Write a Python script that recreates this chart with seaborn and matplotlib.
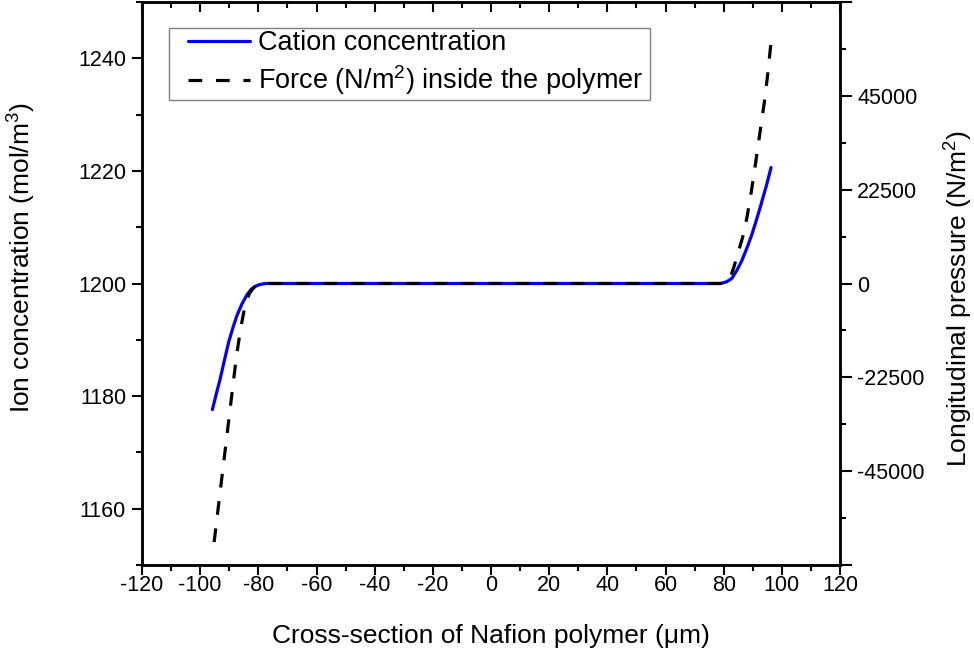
import matplotlib
matplotlib.use("Agg")
import matplotlib.pyplot as plt
from matplotlib.ticker import MultipleLocator, FixedLocator, FixedFormatter
from matplotlib.patches import Rectangle
import seaborn as sns
import pandas as pd

# ---- data ----
cation_x = [-95.8, -94.5, -93.1, -91.6, -90.2, -88.7, -87.3, -85.6, -83.9, -82.4,
            -81.0, -79.6, -78.2, -77.0, 0.0, 77.0, 78.5, 79.3, 81.0, 82.8, 84.5,
            86.2, 88.0, 89.7, 91.1, 92.5, 93.7, 94.8, 95.6, 96.3]
cation_c = [1177.6, 1180.3, 1183.1, 1186.5, 1189.6, 1192.2, 1194.4, 1196.4, 1198.0, 1199.0,
            1199.5, 1199.8, 1199.95, 1200.0, 1200.0, 1200.0, 1200.0, 1200.05, 1200.3, 1200.9, 1202.3,
            1204.0, 1206.3, 1208.7, 1211.0, 1213.4, 1215.6, 1217.6, 1219.2, 1220.6]

force_x = [-95.2, -93.5, -91.5, -89.5, -87.5, -86.0, -84.5, -83.0, -81.5, -80.0,
           -78.5, -77.5, 0.0, 79.5, 80.5, 81.5, 82.5, 83.5, 85.0, 86.5, 88.0,
           89.5, 91.0, 92.5, 94.0, 95.2, 96.3]
force_p = [-62000, -52100, -40500, -28900, -17300, -10500, -5000, -2300, -900, -250,
           -20, 0, 0, 0, 150, 700, 1900, 3900, 7500, 11000, 15800,
           22000, 29000, 36300, 43500, 50500, 58000]

x_ticks = [-120, -100, -80, -60, -40, -20, 0, 20, 40, 60, 80, 100, 120]
left_ticks = [1160, 1180, 1200, 1220, 1240]
right_ticks = [-67500, -45000, -22500, 0, 22500, 45000, 67500]
right_labels = ["", "-45000", "-22500", "0", "22500", "45000", ""]

sns.set_theme(style="ticks")
plt.rcParams["font.family"] = ["Liberation Sans", "DejaVu Sans"]
plt.rcParams["mathtext.fontset"] = "custom"
plt.rcParams["mathtext.rm"] = "Liberation Sans"
plt.rcParams["mathtext.default"] = "regular"
plt.rcParams["axes.unicode_minus"] = False
for k in ("text.color", "axes.labelcolor", "xtick.color", "ytick.color", "axes.edgecolor"):
    plt.rcParams[k] = "black"

df_c = pd.DataFrame({"x": cation_x, "c": cation_c})
df_f = pd.DataFrame({"x": force_x, "p": force_p})

fig = plt.figure(figsize=(9.74, 6.58), dpi=100)
ax = fig.add_axes([142 / 974, 1 - 565 / 658, (840 - 142) / 974, (565 - 2) / 658])
ax2 = ax.twinx()

sns.lineplot(data=df_c, x="x", y="c", ax=ax, color="#0000ff", lw=2.3,
             label="Cation concentration", legend=False, sort=False)
sns.lineplot(data=df_f, x="x", y="p", ax=ax2, color="black", lw=2.3,
             linestyle=(0, (4.3, 4.3)), label="Force (N/m$^2$) inside the polymer",
             legend=False, sort=False)

ax.set_xlim(-120, 120)
ax.set_ylim(1150, 1250)
ax2.set_ylim(-67500, 67500)

ax.xaxis.set_major_locator(FixedLocator(x_ticks))
ax.xaxis.set_minor_locator(MultipleLocator(10))
ax.yaxis.set_major_locator(FixedLocator(left_ticks))
ax.yaxis.set_minor_locator(MultipleLocator(10))
ax2.yaxis.set_major_locator(FixedLocator(right_ticks))
ax2.yaxis.set_major_formatter(FixedFormatter(right_labels))
ax2.yaxis.set_minor_locator(MultipleLocator(11250))

tick_fs = 15.5
ax.tick_params(axis="x", which="both", bottom=True, top=True, labelsize=tick_fs,
               colors="black", width=1.5, pad=0)
ax.tick_params(axis="x", which="major", direction="out", length=7.5)
ax.tick_params(axis="x", which="minor", direction="out", length=4)
ax.tick_params(axis="y", which="both", left=True, right=False, labelsize=tick_fs,
               colors="black", width=1.5, direction="out", pad=4)
ax.tick_params(axis="y", which="major", length=7.5)
ax.tick_params(axis="y", which="minor", length=4)
ax2.tick_params(axis="y", which="both", right=True, left=False, labelsize=tick_fs,
                colors="black", width=1.5, direction="out", pad=4)
ax2.tick_params(axis="y", which="major", length=8.5)
ax2.tick_params(axis="y", which="minor", length=4.5)

# top ticks point inward
for t in ax.xaxis.get_major_ticks() + ax.xaxis.get_minor_ticks():
    t.tick2line.set_marker(3)  # TICKDOWN
for t in ax.xaxis.get_major_ticks():
    t.tick2line.set_markersize(7.5)
for t in ax.xaxis.get_minor_ticks():
    t.tick2line.set_markersize(4)

for a in (ax, ax2):
    for s in a.spines.values():
        s.set_linewidth(1.8)
        s.set_color("black")
        s.set_visible(True)

lab_fs = 19
ax.set_xlabel("Cross-section of Nafion polymer (μm)", fontsize=lab_fs, labelpad=20)
ax.set_ylabel("Ion concentration (mol/m$^3$)", fontsize=lab_fs)
ax.yaxis.set_label_coords(-(142 - 38) / 698, 1 - (258 - 2) / 563)
ax2.set_ylabel("Longitudinal pressure (N/m$^2$)", fontsize=lab_fs)
ax2.yaxis.set_label_coords(1 + (943 - 840) / 698, 1 - (298 - 2) / 563)

# legend box frame and entries
ax2.add_patch(Rectangle((27 / 698, 1 - 98 / 563), (650 - 169) / 698, 72 / 563,
                        transform=ax2.transAxes, facecolor="white", edgecolor="#808080",
                        lw=1.0, zorder=5))
h1, l1 = ax.get_legend_handles_labels()
h2, l2 = ax2.get_legend_handles_labels()
leg = ax2.legend(h1 + h2, l1 + l2, loc="upper left",
                 bbox_to_anchor=((188 - 142) / 698, 1 - (30 - 2) / 563),
                 fontsize=19.5, frameon=False, handlelength=2.3, handletextpad=0.3,
                 borderpad=0, labelspacing=0.28, borderaxespad=0)
leg.set_zorder(6)

fig.savefig("out.png", dpi=100)
